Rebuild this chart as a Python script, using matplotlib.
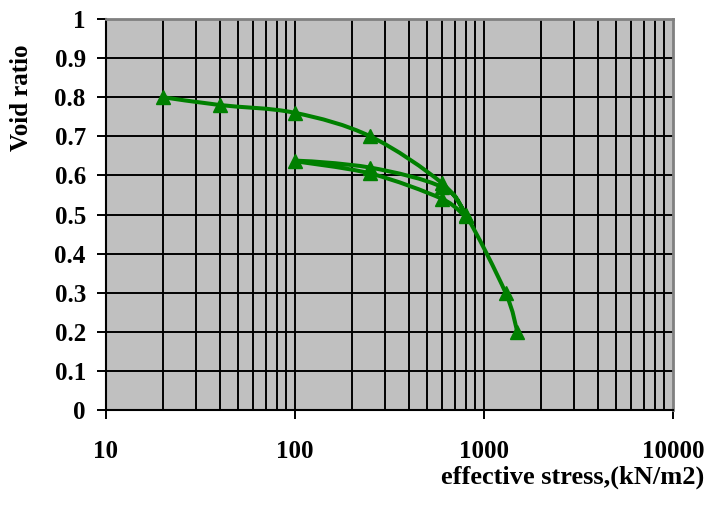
import numpy as np
import matplotlib
matplotlib.use('Agg')
from matplotlib import pyplot as plt
from matplotlib.path import Path
from matplotlib.patches import PathPatch

# Dados (carregamento, descarregamento e recarregamento)
stress = [20, 40, 100, 250, 600, 800, 600, 250, 100, 250, 600, 800, 1300, 1500]
void_ratio = [0.80, 0.78, 0.76, 0.70, 0.58, 0.495, 0.54, 0.605, 0.637, 0.62, 0.57, 0.50, 0.30, 0.20]

x_ticks = [10, 100, 1000, 10000]
x_tick_labels = ['10', '100', '1000', '10000']
y_ticks = [0, 0.1, 0.2, 0.3, 0.4, 0.5, 0.6, 0.7, 0.8, 0.9, 1]
y_tick_labels = ['0', '0.1', '0.2', '0.3', '0.4', '0.5', '0.6', '0.7', '0.8', '0.9', '1']

green = '#008000'
plt.rcParams['font.family'] = ['Liberation Serif', 'DejaVu Serif']
plt.rcParams['font.weight'] = 'bold'

fig = plt.figure(figsize=(7.11, 5.16), dpi=100)
ax = fig.add_axes([0.149, 0.2054, 0.7976, 0.7578])
ax.set_facecolor('#C0C0C0')
ax.set_xscale('log')
ax.set_xlim(10, 10000)
ax.set_ylim(0, 1)

# Grade vertical (menor e maior) e horizontal
for dec in [10, 100, 1000]:
    for m in range(1, 10):
        if dec * m > 10:
            ax.axvline(dec * m, color='black', lw=1.4, zorder=1)
for yv in y_ticks[1:-1]:
    ax.axhline(yv, color='black', lw=1.4, zorder=1)

# Curva suavizada (estilo Excel) com Bezier em espaco log-x
lx = np.log10(stress)
yy = np.array(void_ratio)
n = len(lx)
verts = [(stress[0], yy[0])]
codes = [Path.MOVETO]
for i in range(n - 1):
    p0 = (lx[max(i - 1, 0)], yy[max(i - 1, 0)])
    p1 = (lx[i], yy[i])
    p2 = (lx[i + 1], yy[i + 1])
    p3 = (lx[min(i + 2, n - 1)], yy[min(i + 2, n - 1)])
    c1 = (p1[0] + (p2[0] - p0[0]) / 6, p1[1] + (p2[1] - p0[1]) / 6)
    c2 = (p2[0] - (p3[0] - p1[0]) / 6, p2[1] - (p3[1] - p1[1]) / 6)
    verts += [(10 ** c1[0], c1[1]), (10 ** c2[0], c2[1]), (stress[i + 1], yy[i + 1])]
    codes += [Path.CURVE4] * 3
ax.add_patch(PathPatch(Path(verts, codes), facecolor='none', edgecolor=green, lw=2.9, zorder=3))
ax.plot(stress, void_ratio, linestyle='none', marker='^', color=green, markersize=10, zorder=4)

ax.set_xticks(x_ticks)
ax.set_xticklabels(x_tick_labels)
ax.set_xticks([], minor=True)
ax.set_yticks(y_ticks)
ax.set_yticklabels(y_tick_labels)
ax.tick_params(axis='both', labelsize=18, length=6.5, width=1.4, color='black', direction='out')
ax.tick_params(axis='x', pad=15)
ax.tick_params(axis='y', pad=8)
for lbl in ax.get_xticklabels() + ax.get_yticklabels():
    lbl.set_fontweight('bold')

ax.spines['left'].set_linewidth(1.5)
ax.spines['bottom'].set_linewidth(1.5)
ax.spines['top'].set_color('#808080')
ax.spines['right'].set_color('#808080')
ax.spines['top'].set_linewidth(2)
ax.spines['right'].set_linewidth(2)

fig.text(0.03, 1 - 98 / 516, 'Void ratio', rotation=90, ha='center', va='center',
         fontsize=18, fontweight='bold')
fig.text(704 / 711, 1 - 477 / 516, 'effective stress,(kN/m2)', ha='right', va='center',
         fontsize=19, fontweight='bold')

fig.savefig('out.png', dpi=100)
